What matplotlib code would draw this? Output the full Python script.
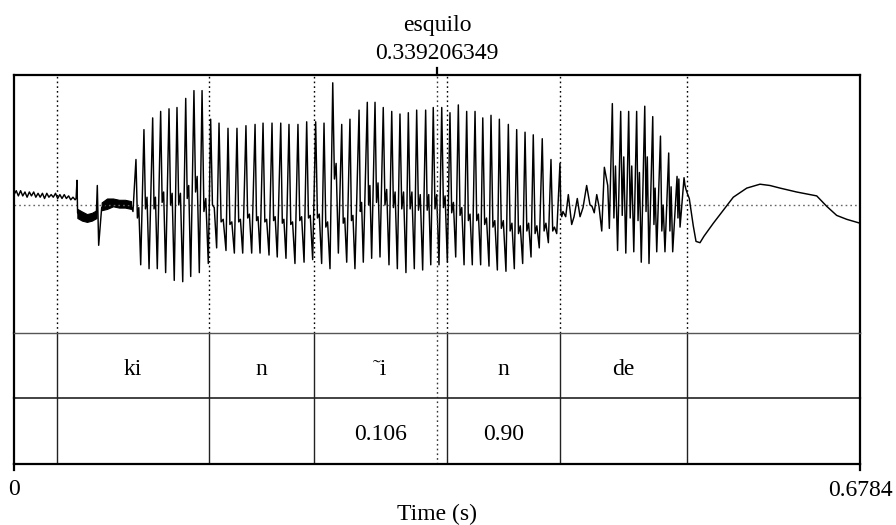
import matplotlib
matplotlib.use("Agg")
import matplotlib.pyplot as plt
from matplotlib.transforms import blended_transform_factory

plt.rcParams['font.family'] = ['Liberation Serif', 'DejaVu Serif']

# ---- data -------------------------------------------------------------
T_END = 0.6784
CURSOR = 0.339206349
WORD = "esquilo"

# interval boundaries (s) shared by both tiers
bounds = [0.0342, 0.1566, 0.2406, 0.3470, 0.4378, 0.5399]
tier1 = ["", "ki", "n", "\u02dci", "n", "de", ""]
tier2 = ["", "", "", "0.106", "0.90", "", ""]

# waveform, times in ms, amplitude relative to the top of the panel
ripple_ms = [0, 1.8, 3.5, 5.3, 7.0, 8.8, 10.5, 12.3, 14.0, 15.8, 17.5, 19.3, 21.0, 22.8, 24.5,
             26.3, 28.0, 29.8, 31.5, 33.3, 35.0, 36.8, 38.5, 40.3, 42.0, 43.8, 45.5, 47.3, 49.0]
ripple_v = [0.08, 0.11, 0.07, 0.11, 0.07, 0.10, 0.06, 0.10, 0.07, 0.10, 0.06, 0.09, 0.06, 0.09, 0.05,
            0.09, 0.06, 0.08, 0.06, 0.09, 0.05, 0.08, 0.05, 0.08, 0.05, 0.07, 0.04, 0.06, 0.04]

# release bursts: line through the spikes, dense noise drawn as a band
burst_ms = [49.8, 50.5, 51.0, 54.0, 58.0, 62.0, 66.0, 66.8, 67.9, 70.3, 75.0, 80.0, 86.0, 93.8]
burst_v = [0.05, 0.19, -0.06, -0.10, -0.09, -0.12, -0.08, 0.15, -0.31, -0.02, 0.02, 0.01, 0.02, 0.00]
band1_ms = [50.8, 54.5, 58.5, 62.5, 66.2]
band1_hi = [-0.03, -0.05, -0.07, -0.06, -0.04]
band1_lo = [-0.10, -0.12, -0.13, -0.12, -0.10]
band2_ms = [70.3, 74.6, 79.4, 84.2, 89.0, 93.8]
band2_hi = [0.02, 0.05, 0.05, 0.04, 0.04, 0.03]
band2_lo = [-0.04, -0.03, -0.01, -0.02, -0.02, -0.03]

# first voiced stretch: one trough, peak, dip and mid value per glottal cycle
v1_trough_ms = [95.4, 101.6, 108.3, 114.9, 121.6, 128.5, 135.3, 141.7, 148.6,
                155.8, 162.5, 170.0, 176.7, 183.4, 190.6, 197.3, 204.5, 211.1, 218.1, 225.3, 232.6,
                239.5, 246.7, 253.4, 260.1, 266.8, 273.4, 280.1, 286.8, 293.5, 300.7,
                307.4, 314.3, 321.0, 327.7, 334.2, 340.8, 347.5, 354.2, 360.9, 367.5,
                374.2, 380.9, 387.6, 394.5, 401.2, 407.9, 414.6, 421.2, 428.5, 435.2]
v1_trough = [-0.05, -0.46, -0.49, -0.49, -0.52, -0.58, -0.59, -0.55, -0.52,
             -0.45, -0.33, -0.35, -0.37, -0.37, -0.37, -0.37, -0.385, -0.40, -0.41, -0.45, -0.44,
             -0.42, -0.45, -0.49, -0.37, -0.44, -0.49, -0.44, -0.41, -0.40, -0.46,
             -0.49, -0.52, -0.49, -0.50, -0.46, -0.46, -0.44, -0.40, -0.46, -0.46,
             -0.46, -0.47, -0.50, -0.51, -0.49, -0.45, -0.40, -0.33, -0.29, -0.22]
v1_peak_ms = [97.8, 104.2, 111.2, 117.6, 124.3, 130.7, 137.7, 144.3, 150.8,
              157.7, 164.4, 171.6, 178.8, 186.0, 193.3, 199.7, 206.9, 213.9, 220.5, 227.7, 234.7,
              241.9, 248.6, 255.6, 262.8, 269.4, 276.7, 283.3, 289.5, 296.1, 302.9,
              309.5, 316.2, 322.9, 330.1, 336.2, 343.0, 349.6, 356.3, 363.0, 369.7,
              375.9, 382.5, 389.2, 396.4, 403.1, 409.8, 416.4, 423.6, 430.6, 437.8]
v1_peak = [0.35, 0.58, 0.67, 0.72, 0.74, 0.75, 0.82, 0.88, 0.88,
           0.66, 0.63, 0.59, 0.59, 0.61, 0.62, 0.63, 0.63, 0.63, 0.62, 0.62, 0.64,
           0.64, 0.63, 0.94, 0.62, 0.66, 0.73, 0.79, 0.79, 0.75, 0.72,
           0.70, 0.71, 0.73, 0.73, 0.75, 0.75, 0.71, 0.77, 0.72, 0.72,
           0.67, 0.69, 0.66, 0.62, 0.58, 0.56, 0.54, 0.51, 0.35, 0.32]
v1_dip = [-0.10, -0.03, -0.03, 0.02, 0.00, 0.00, 0.05, 0.10, -0.05,
          0.00, -0.13, -0.15, -0.13, -0.10, -0.12, -0.13, -0.12, -0.14, -0.15, -0.12, -0.10,
          -0.10, -0.17, 0.20, -0.14, -0.12, -0.05, 0.00, 0.02, 0.00, -0.02,
          -0.03, -0.03, -0.04, -0.04, -0.03, -0.02, -0.06, -0.08, -0.12, -0.12,
          -0.15, -0.17, -0.18, -0.20, -0.22, -0.20, -0.22, -0.20, -0.20, -0.05]
v1_mid = [-0.02, 0.06, 0.06, 0.10, 0.09, 0.09, 0.15, 0.22, 0.05,
          -0.02, -0.11, -0.13, -0.11, -0.07, -0.09, -0.11, -0.09, -0.11, -0.13, -0.09, -0.08,
          -0.07, -0.13, 0.32, -0.10, -0.08, 0.02, 0.15, 0.17, 0.12, 0.10,
          0.10, 0.10, 0.08, 0.08, 0.08, 0.07, 0.02, -0.02, -0.07, -0.07,
          -0.10, -0.12, -0.12, -0.14, -0.16, -0.14, -0.16, -0.14, -0.17, -0.09]

# weak irregular stretch before "de"
irr_ms = [440.2, 442.4, 444.5, 447.2, 449.1, 451.7, 453.9, 456.3, 459.2, 461.9,
          463.5, 465.3, 467.3, 469.1, 471.3, 473.4, 476.1]
irr_v = [-0.05, -0.09, 0.08, -0.15, -0.09, 0.05, -0.09, -0.02, 0.15, 0.00,
         -0.01, -0.06, 0.08, -0.01, -0.20, 0.29, 0.15]

# second voiced stretch ("de")
v2_trough_ms = [477.4, 484.0, 490.6, 497.0, 503.0, 509.2, 515.4, 522.0, 528.2, 534.1]
v2_trough = [-0.18, -0.35, -0.37, -0.36, -0.44, -0.45, -0.36, -0.36, -0.36, -0.17]
v2_peak_ms = [479.8, 486.5, 492.9, 499.3, 505.8, 512.2, 518.4, 525.0, 531.7, 537.3]
v2_peak = [0.78, 0.72, 0.72, 0.72, 0.76, 0.68, 0.53, 0.40, 0.22, 0.21]
v2_dip = [-0.10, -0.08, -0.10, -0.12, -0.05, -0.15, -0.20, -0.20, -0.10, 0.15]
v2_mid = [0.30, 0.37, 0.30, 0.25, 0.37, 0.13, 0.00, 0.14, 0.20, 0.12]

# slow drift after the word
tail_ms = [539.9, 541.5, 544.7, 546.9, 550.1, 553.3, 560.8, 568.8, 576.8, 587.6,
           598.2, 606.2, 614.3, 627.6, 643.7, 651.7, 659.7, 667.7, 678.4]
tail_v = [0.09, 0.05, -0.16, -0.28, -0.29, -0.24, -0.14, -0.04, 0.06, 0.13,
          0.16, 0.15, 0.13, 0.10, 0.07, -0.01, -0.08, -0.11, -0.14]


def cycles(tr_t, tr_v, pk_t, pk_v, dip_v, mid_v, end_t):
    """Join the per-cycle readings into one polyline (ms)."""
    ts, vs = [], []
    nxt = tr_t[1:] + [end_t]
    for i in range(len(pk_t)):
        gap = nxt[i] - pk_t[i]
        ts += [tr_t[i], pk_t[i], pk_t[i] + 0.3 * gap, pk_t[i] + 0.6 * gap]
        vs += [tr_v[i], pk_v[i], dip_v[i], mid_v[i]]
    return ts, vs


v1_t, v1_v = cycles(v1_trough_ms, v1_trough, v1_peak_ms, v1_peak, v1_dip, v1_mid, irr_ms[0])
v2_t, v2_v = cycles(v2_trough_ms, v2_trough, v2_peak_ms, v2_peak, v2_dip, v2_mid, tail_ms[0])

wave_ms = ripple_ms + burst_ms + v1_t + irr_ms + v2_t + tail_ms
wave_v = ripple_v + burst_v + v1_v + irr_v + v2_v + tail_v
wave_t = [m / 1000 for m in wave_ms]

# ---- figure -------------------------------------------------------------
W, H = 896, 525
fig = plt.figure(figsize=(W / 100, H / 100), dpi=100)
fig.patch.set_facecolor('white')

left, right = 14 / W, 846 / W
ax_w = fig.add_axes([left, (H - 333) / H, right, 258 / H])
ax_1 = fig.add_axes([left, (H - 398) / H, right, 65 / H])
ax_2 = fig.add_axes([left, (H - 464) / H, right, 66 / H])

for ax in (ax_w, ax_1, ax_2):
    ax.set_xlim(0, T_END)
    ax.set_xticks([])
    ax.set_yticks([])
    ax.patch.set_alpha(0)
    for s in ax.spines.values():
        s.set_color('black')
        s.set_linewidth(1.6)

ax_w.spines['bottom'].set_visible(False)
ax_1.spines['top'].set_linewidth(1.0)
ax_1.spines['top'].set_color('#555555')
ax_1.spines['bottom'].set_linewidth(1.2)
ax_1.spines['bottom'].set_color('#222222')
ax_2.spines['top'].set_visible(False)

# waveform
ax_w.set_ylim(-128 / 130, 1.0)
ax_w.axhline(0, color='#666666', lw=1.0, ls=(0, (1.2, 2.2)))
ax_w.fill_between([m / 1000 for m in band1_ms], band1_lo, band1_hi, color='black', lw=0.8)
ax_w.fill_between([m / 1000 for m in band2_ms], band2_lo, band2_hi, color='black', lw=0.8)
ax_w.plot(wave_t, wave_v, color='black', lw=1.05)
for b in bounds:
    ax_w.axvline(b, color='black', lw=1.0, ls=(0, (1.2, 2.2)))

# tiers
for ax, labels in ((ax_1, tier1), (ax_2, tier2)):
    ax.set_ylim(0, 1)
    for b in bounds:
        ax.axvline(b, color='#222222', lw=1.0)
    edges = [0.0] + bounds + [T_END]
    for lab, a, b in zip(labels, edges[:-1], edges[1:]):
        if lab:
            ax.text((a + b) / 2, 0.36, lab, ha='center', va='baseline', fontsize=17)

# cursor through all panels
for ax in (ax_w, ax_1, ax_2):
    ax.axvline(CURSOR, color='#333333', lw=1.0, ls=(0, (1.2, 2.2)))

tr_top = blended_transform_factory(ax_w.transData, ax_w.transAxes)
ax_w.plot([CURSOR, CURSOR], [1.0, 1.028], color='black', lw=1.6, transform=tr_top, clip_on=False)
ax_w.annotate(f"{CURSOR:.9f}", xy=(CURSOR, 1.0), xycoords=tr_top, xytext=(0, 11.5),
              textcoords='offset points', ha='center', va='baseline', fontsize=17)
ax_w.annotate(WORD, xy=(CURSOR, 1.0), xycoords=tr_top, xytext=(0, 31.5),
              textcoords='offset points', ha='center', va='baseline', fontsize=17)

# bottom marks and labels
tr_bot = blended_transform_factory(ax_2.transData, ax_2.transAxes)
for x in (0.0, T_END):
    ax_2.plot([x, x], [0, -0.09], color='black', lw=1.6, transform=tr_bot, clip_on=False)
ax_2.annotate("0", xy=(0.0, 0), xycoords=tr_bot, xytext=(0, -22.5),
              textcoords='offset points', ha='center', va='baseline', fontsize=17)
ax_2.annotate(f"{T_END:g}", xy=(T_END, 0), xycoords=tr_bot, xytext=(0, -23),
              textcoords='offset points', ha='center', va='baseline', fontsize=17)
ax_2.annotate("Time (s)", xy=(T_END / 2, 0), xycoords=tr_bot, xytext=(0, -40),
              textcoords='offset points', ha='center', va='baseline', fontsize=17)

fig.savefig("out.png", dpi=100, facecolor='white')
